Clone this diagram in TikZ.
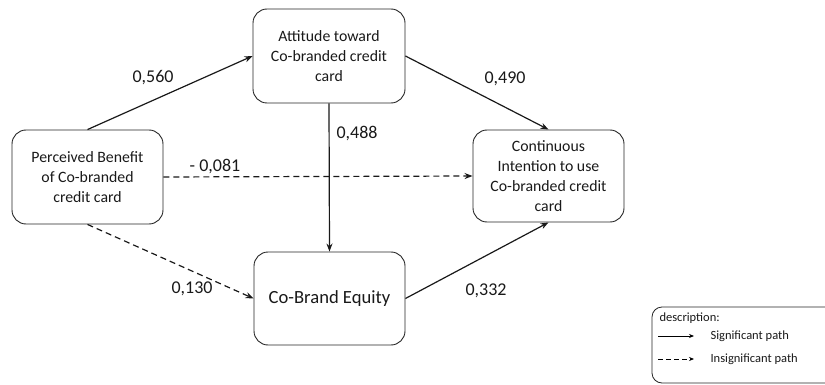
\documentclass[tikz,border=0pt]{standalone}
\usepackage{fontspec}
\setmainfont{Carlito}
\usetikzlibrary{arrows.meta}
\begin{document}
\begin{tikzpicture}[x=1pt,y=-1pt,
  box/.style={draw=black!85,line width=0.9pt,rounded corners=14pt,align=center,
    inner sep=0pt,font=\fontsize{15.8}{20}\selectfont,text=black!90},
  sig/.style={line width=1.2pt,-{Stealth[length=8pt,width=6pt]},black!90},
  insig/.style={sig,dash pattern=on 6pt off 4pt},
  coef/.style={font=\fontsize{18}{20}\selectfont,text=black!90},
  legtext/.style={font=\fontsize{12.5}{14}\selectfont,anchor=west,text=black!90}]
\useasboundingbox (0,0) rectangle (825,385);

% construct boxes
\node[box,minimum width=151pt,minimum height=94pt] (pb) at (87.5,177)
  {Perceived Benefit\\of Co-branded\\credit card};
\node[box,minimum width=152pt,minimum height=94pt] (at) at (329,56)
  {Attitude toward\\Co-branded credit\\card};
\node[box,minimum width=151pt,minimum height=92pt] (ci) at (548.5,176)
  {Continuous\\Intention to use\\Co-branded credit\\card};
\node[box,minimum width=151pt,minimum height=93pt,font=\fontsize{18.6}{22}\selectfont] (ce) at (329.5,298.5)
  {Co-Brand Equity};

% structural paths
\draw[sig] (pb.north) -- (at.west);
\draw[sig] (at.east) -- (ci.north);
\draw[sig] (at.south) -- (ce.north);
\draw[insig] (pb.east) -- (ci.west);
\draw[insig] (pb.south) -- (ce.west);
\draw[sig] (ce.east) -- (ci.south);

% path coefficients
\node[coef] (c1) at (153,78) {0,560};
\node[coef] (c2) at (505,79) {0,490};
\node[coef] (c3) at (357,134) {0,488};
\node[coef] (c4) at (215,167) {- 0,081};
\node[coef] (c5) at (192,289) {0,130};
\node[coef] (c6) at (486,291) {0,332};

% legend
\begin{scope}
\clip (0,0) rectangle (825,385);
\draw[black!85,line width=0.8pt,rounded corners=10pt] (652,307) rectangle (845,383);
\end{scope}
\node[legtext] (ld) at (656,318) {description:};
\coordinate (s1) at (658,336);
\coordinate (s2) at (694,336);
\coordinate (d1) at (658,359);
\coordinate (d2) at (694,359);
\draw[line width=0.8pt,-{Stealth[length=5pt,width=4pt]}] (s1) -- (s2);
\draw[line width=0.8pt,dash pattern=on 5pt off 3pt,-{Stealth[length=5pt,width=4pt]}] (d1) -- (d2);
\node[legtext] (ls) at (707,336) {Significant path};
\node[legtext] (li) at (707,359) {Insignificant path};
\end{tikzpicture}
\end{document}
